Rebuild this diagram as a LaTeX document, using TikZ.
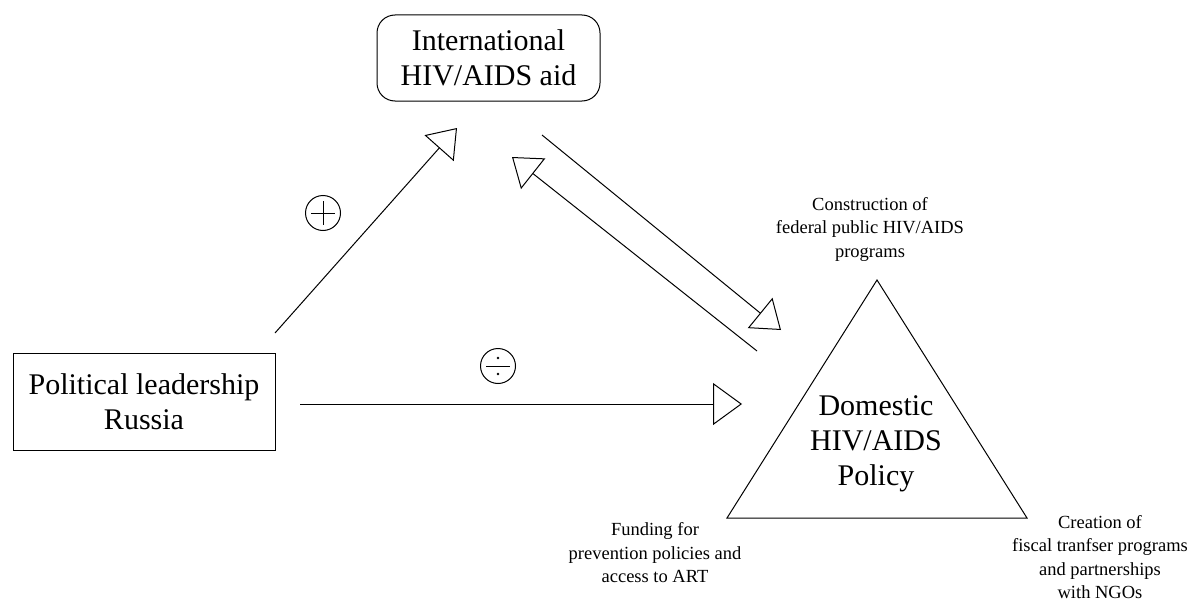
\documentclass[tikz,border=0pt]{standalone}
\usepackage{fontspec}
\setmainfont{Liberation Serif}
\usetikzlibrary{arrows.meta}
\begin{document}
\begin{tikzpicture}[x=1pt,y=-1pt,
  line width=1pt,
  bigtext/.style={font=\fontsize{30}{35}\selectfont, align=center},
  smalltext/.style={font=\fontsize{18.5}{23.5}\selectfont, align=center, inner sep=0pt},
  flow/.style={-{Triangle[open,length=27pt,width=39pt,line width=1pt]}},
  sign/.style={circle, draw, minimum size=35pt, inner sep=0pt}]
\useasboundingbox (0,0) rectangle (1196,602);

% actors
\node[bigtext, draw, rounded corners=18pt, minimum width=223pt, minimum height=86pt]
  (intl) at (488.5,58) {International\\HIV/AIDS aid};
\node[bigtext, draw, minimum width=262pt, minimum height=97pt]
  (lead) at (144,401.5) {Political leadership\\Russia};

% policy triangle
\draw (877,280) -- (727,518) -- (1027,518) -- cycle;
\node[bigtext] (dom) at (876,444) {Domestic\\HIV/AIDS\\Policy};

% policy components
\node[smalltext] (constr) at (870,229) {Construction of\\federal public HIV/AIDS\\programs};
\node[smalltext] (fund) at (655,553) {Funding for\\prevention policies and\\access to ART};
\node[smalltext] (fisc) at (1100,557) {Creation of\\fiscal tranfser programs\\and partnerships\\with NGOs};

% connector end points
\coordinate (lead-up) at (275,333);
\coordinate (intl-in) at (457,128);
\coordinate (intl-out) at (542,135);
\coordinate (dom-in) at (781,330);
\coordinate (dom-out) at (757,351);
\coordinate (intl-back) at (512,157);
\coordinate (lead-right) at (300,404);
\coordinate (dom-left) at (742,404);

\draw[flow] (lead-up) -- (intl-in);
\draw[flow] (intl-out) -- (dom-in);
\draw[flow] (dom-out) -- (intl-back);
\draw[flow, -{Triangle[open,length=29pt,width=42pt,line width=1pt]}] (lead-right) -- (dom-left);

% effect signs
\node[sign] (plus) at (323,213) {};
\draw (plus.center) +(-12,0) -- +(12,0);
\draw (plus.center) +(0,-12) -- +(0,12);
\node[sign] (divide) at (498,366) {};
\draw (divide.center) +(-12,0) -- +(12,0);
\fill (divide.center) +(0,-8) circle (1.3);
\fill (divide.center) +(0,8) circle (1.3);
\end{tikzpicture}
\end{document}
